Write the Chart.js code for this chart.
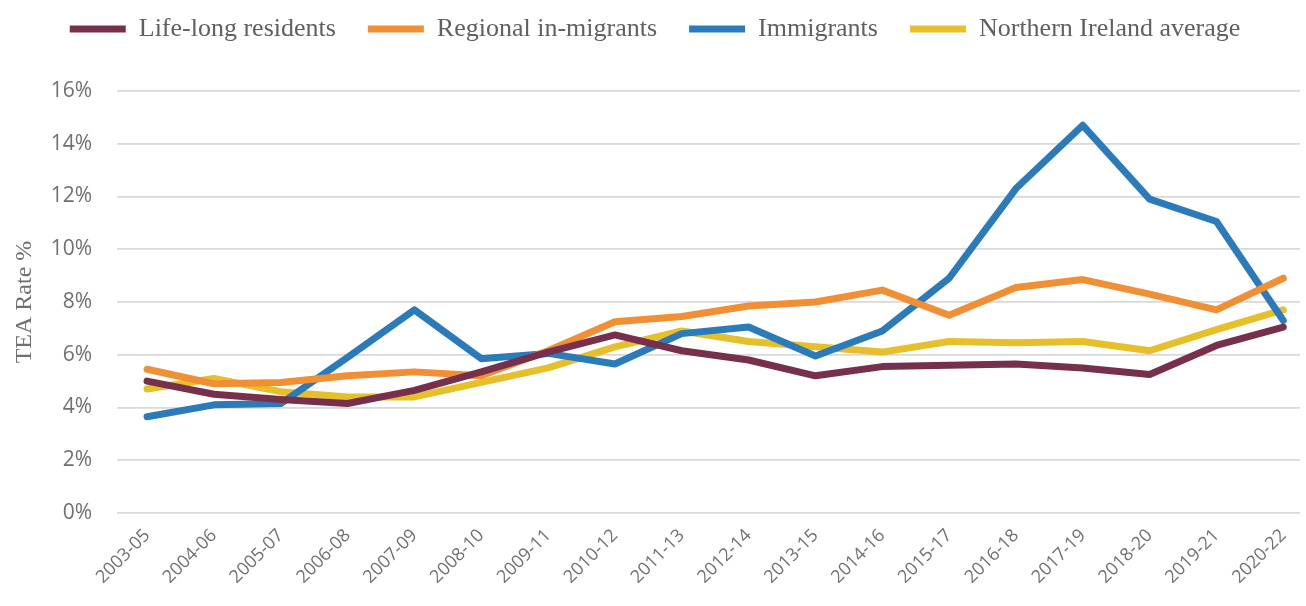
<!DOCTYPE html>
<html>
<head>
<meta charset="utf-8">
<title>TEA Rate</title>
<script src="https://cdn.jsdelivr.net/npm/chart.js@4.4.1/dist/chart.umd.min.js"></script>
<style>
    html, body { margin: 0; padding: 0; background: #fff; overflow: hidden; }
    #wrap { width: 1306px; height: 606px; position: relative; }
</style>
</head>
<body>
<div id="wrap"><canvas id="teaChart"></canvas></div>
<script>
// periods (three-year pooled)
const periods = ['2003-05', '2004-06', '2005-07', '2006-08', '2007-09', '2008-10', '2009-11', '2010-12', '2011-13',
    '2012-14', '2013-15', '2014-16', '2015-17', '2016-18', '2017-19', '2018-20', '2019-21', '2020-22'];

// TEA rate, %
const lifeLong = [5.0, 4.5, 4.3, 4.15, 4.65, 5.35, 6.1, 6.75, 6.15, 5.8, 5.2, 5.55, 5.6, 5.65, 5.5, 5.25, 6.35, 7.05];
const regional = [5.45, 4.9, 4.95, 5.2, 5.35, 5.2, 6.15, 7.25, 7.45, 7.85, 8.0, 8.45, 7.5, 8.55, 8.85, 8.3, 7.7, 8.9];
const immigrants = [3.65, 4.1, 4.15, 5.9, 7.7, 5.85, 6.05, 5.65, 6.8, 7.05, 5.95, 6.9, 8.9, 12.3, 14.7, 11.9, 11.05, 7.3];
const niAverage = [4.7, 5.1, 4.6, 4.4, 4.4, 4.95, 5.5, 6.3, 6.9, 6.5, 6.3, 6.1, 6.5, 6.45, 6.5, 6.15, 6.95, 7.7];

const yTicks = [0, 2, 4, 6, 8, 10, 12, 14, 16];

function series(label, values, color) {
    return {
        label: label,
        data: values.map((v, i) => ({ x: i, y: v })),
        borderColor: color,
        backgroundColor: color,
        borderWidth: 7,
        borderCapStyle: 'round',
        borderJoinStyle: 'round',
        pointRadius: 0,
        tension: 0,
        fill: false
    };
}

// extra room under the legend so the plot starts lower
const legendGap = {
    id: 'legendGap',
    beforeLayout(chart) {
        const legend = chart.legend;
        if (legend && !legend._gapPatched) {
            const fit = legend.fit;
            legend.fit = function () {
                fit.call(this);
                this.height += 39;
            };
            legend._gapPatched = true;
        }
    }
};

new Chart(document.getElementById('teaChart').getContext('2d'), {
    type: 'line',
    data: {
        datasets: [
            series('Life-long residents', lifeLong, '#76304b'),
            series('Regional in-migrants', regional, '#f08f33'),
            series('Immigrants', immigrants, '#2b7bbb'),
            series('Northern Ireland average', niAverage, '#e6bf2a')
        ]
    },
    plugins: [legendGap],
    options: {
        responsive: true,
        maintainAspectRatio: false,
        animation: false,
        layout: { padding: { left: 10, right: 6, top: -16, bottom: 14 } },
        plugins: {
            tooltip: { enabled: false },
            legend: {
                position: 'top',
                labels: {
                    color: '#606060',
                    font: { family: '"Liberation Serif", serif', size: 26 },
                    usePointStyle: true,
                    pointStyle: 'line',
                    pointStyleWidth: 56,
                    boxHeight: 7,
                    padding: 32
                }
            }
        },
        scales: {
            x: {
                type: 'linear',
                min: -0.45,
                max: 17.25,
                afterBuildTicks: (scale) => {
                    scale.ticks = periods.map((p, i) => ({ value: i }));
                },
                afterFit: (scale) => {
                    // rotated labels sit under the plot, no side margin needed
                    scale.paddingLeft = 0;
                    scale.paddingRight = 0;
                },
                grid: { display: false },
                border: { display: false },
                ticks: {
                    color: '#707070',
                    font: { family: '"Open Sans", sans-serif', size: 18 },
                    autoSkip: false,
                    minRotation: 45,
                    maxRotation: 45,
                    padding: 4,
                    callback: (v) => periods[v]
                }
            },
            y: {
                min: 0,
                max: 16,
                afterBuildTicks: (scale) => {
                    scale.ticks = yTicks.map(v => ({ value: v }));
                },
                afterFit: (scale) => {
                    scale.width = 107;
                },
                grid: { color: '#d9d9d9', lineWidth: 1.8, drawTicks: false },
                border: { display: false },
                ticks: {
                    color: '#707070',
                    font: { family: '"Open Sans", sans-serif', size: 21 },
                    padding: 25,
                    callback: (v) => v + '%'
                },
                title: {
                    display: true,
                    text: 'TEA Rate %',
                    color: '#707070',
                    font: { family: '"Liberation Serif", serif', size: 24 },
                    padding: { top: 0, bottom: 12 }
                }
            }
        }
    }
});
</script>
</body>
</html>
